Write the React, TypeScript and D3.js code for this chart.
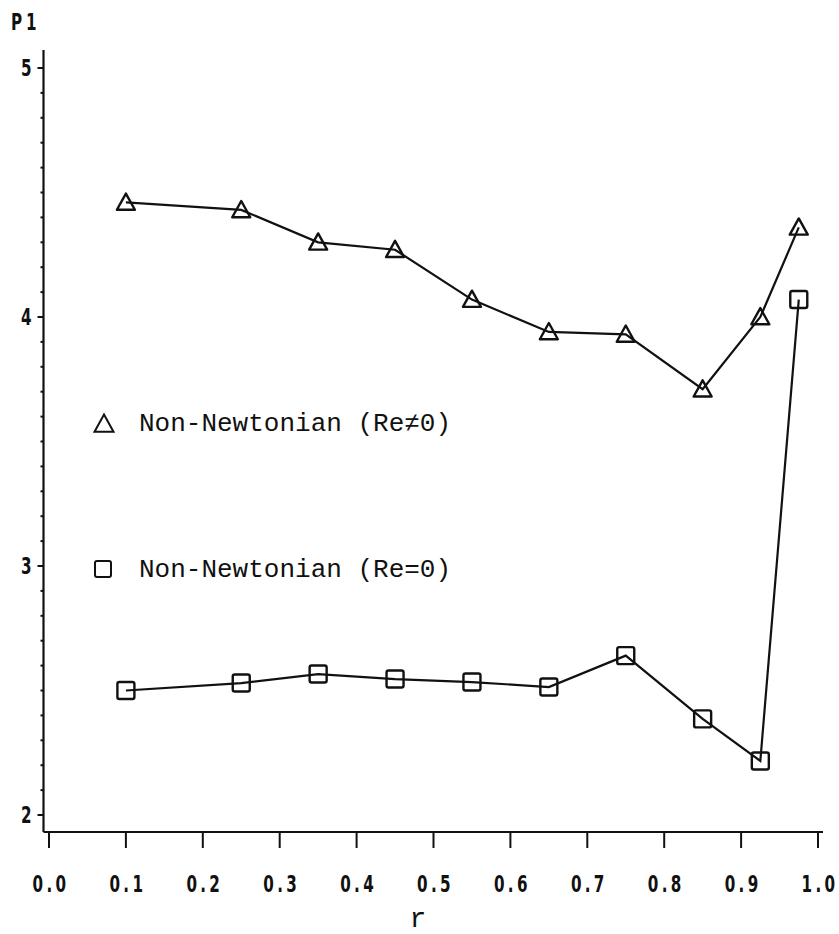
import React from "react";
import * as d3 from "d3";

// Radial positions r and the P1 values of both runs
const rValues = [0.1, 0.25, 0.35, 0.45, 0.55, 0.65, 0.75, 0.85, 0.925, 0.975];
const p1ReNonZero = [4.46, 4.43, 4.3, 4.27, 4.07, 3.94, 3.93, 3.71, 4.0, 4.36];
const p1ReZero = [2.5, 2.53, 2.566, 2.546, 2.534, 2.514, 2.64, 2.386, 2.217, 4.07];

const xTickValues = [0, 0.1, 0.2, 0.3, 0.4, 0.5, 0.6, 0.7, 0.8, 0.9, 1.0];
const yMajorTicks = [2, 3, 4, 5];

const legendLabels = ["Non-Newtonian (Re\u22600)", "Non-Newtonian (Re=0)"];

const W = 839;
const H = 934;

const INK = "#111";
const mono = "'Liberation Mono', 'Courier New', monospace";
const plotter = "'DejaVu Sans', sans-serif";

// Narrow, tall plotter-style lettering for the axis numbers
function PlotterText({
  x,
  y,
  anchor = "middle",
  spacing = 5,
  children,
}: {
  x: number;
  y: number;
  anchor?: "start" | "middle" | "end";
  spacing?: number;
  children: React.ReactNode;
}) {
  return (
    <text
      transform={`translate(${x},${y}) scale(0.66,1)`}
      textAnchor={anchor}
      fontFamily={plotter}
      fontWeight="bold"
      fontSize={23}
      letterSpacing={spacing}
      fill={INK}
    >
      {children}
    </text>
  );
}

export default function App() {
  const x = d3.scaleLinear().domain([0, 1]).range([49, 818]);
  const y = d3.scaleLinear().domain([2, 5]).range([815, 68]);

  const axisX = 43.5;
  const axisY = 832;

  const line = d3
    .line<[number, number]>()
    .x((d) => x(d[0]))
    .y((d) => y(d[1]));

  const triPts = rValues.map((r, i) => [r, p1ReNonZero[i]] as [number, number]);
  const sqPts = rValues.map((r, i) => [r, p1ReZero[i]] as [number, number]);

  const minorTicks = d3.range(20, 51).map((v) => v / 10);

  const triSize = 18;
  const triPath = (cx: number, cy: number, s = triSize) => {
    const h = s * 0.9;
    return `M${cx},${cy - h * 0.55}L${cx + s / 2},${cy + h * 0.45}L${cx - s / 2},${cy + h * 0.45}Z`;
  };
  const sq = 17;

  return (
    <svg
      width={W}
      height={H}
      style={{ position: "absolute", left: 0, top: 0, background: "#fff" }}
    >
      <rect x={0} y={0} width={W} height={H} fill="#fff" />

      {/* y axis */}
      <line x1={axisX} y1={50} x2={axisX} y2={axisY} stroke={INK} strokeWidth={2.2} />
      {minorTicks.map((v) => (
        <line
          key={"m" + v}
          x1={axisX - 3}
          x2={axisX}
          y1={y(v)}
          y2={y(v)}
          stroke={INK}
          strokeWidth={2}
        />
      ))}
      {yMajorTicks.map((v) => (
        <g key={"y" + v}>
          <line x1={axisX - 6} x2={axisX} y1={y(v)} y2={y(v)} stroke={INK} strokeWidth={2} />
          <PlotterText x={28} y={y(v) + 8}>
            {v}
          </PlotterText>
        </g>
      ))}
      <PlotterText x={11} y={30} anchor="start" spacing={6}>
        P1
      </PlotterText>

      {/* x axis */}
      <line x1={axisX} y1={axisY} x2={823} y2={axisY} stroke={INK} strokeWidth={2.2} />
      {xTickValues.map((v) => (
        <g key={"x" + v}>
          <line x1={x(v)} x2={x(v)} y1={axisY + 1} y2={axisY + 16} stroke={INK} strokeWidth={2} />
          <PlotterText x={x(v) + 2} y={892}>
            {d3.format(".1f")(v)}
          </PlotterText>
        </g>
      ))}
      <text x={418} y={927} textAnchor="middle" fontFamily={mono} fontSize={28} fill={INK}>
        r
      </text>

      {/* series: Re ≠ 0 */}
      <path d={line(triPts) || ""} fill="none" stroke={INK} strokeWidth={2.2} />
      {triPts.map((p, i) => (
        <path
          key={"t" + i}
          d={triPath(x(p[0]), y(p[1]))}
          fill="none"
          stroke={INK}
          strokeWidth={2.4}
          strokeLinejoin="round"
        />
      ))}

      {/* series: Re = 0 */}
      <path d={line(sqPts) || ""} fill="none" stroke={INK} strokeWidth={2.2} />
      {sqPts.map((p, i) => (
        <rect
          key={"s" + i}
          x={x(p[0]) - sq / 2}
          y={y(p[1]) - sq / 2}
          width={sq}
          height={sq}
          rx={2}
          fill="none"
          stroke={INK}
          strokeWidth={2.4}
        />
      ))}

      {/* legend */}
      <path d={triPath(104, 424, 19)} fill="none" stroke={INK} strokeWidth={2} />
      <text x={139} y={431} fontFamily={mono} fontSize={26} fill={INK}>
        {legendLabels[0]}
      </text>
      <rect x={95} y={561} width={16} height={16} rx={2} fill="none" stroke={INK} strokeWidth={2} />
      <text x={139} y={577} fontFamily={mono} fontSize={26} fill={INK}>
        {legendLabels[1]}
      </text>
    </svg>
  );
}
